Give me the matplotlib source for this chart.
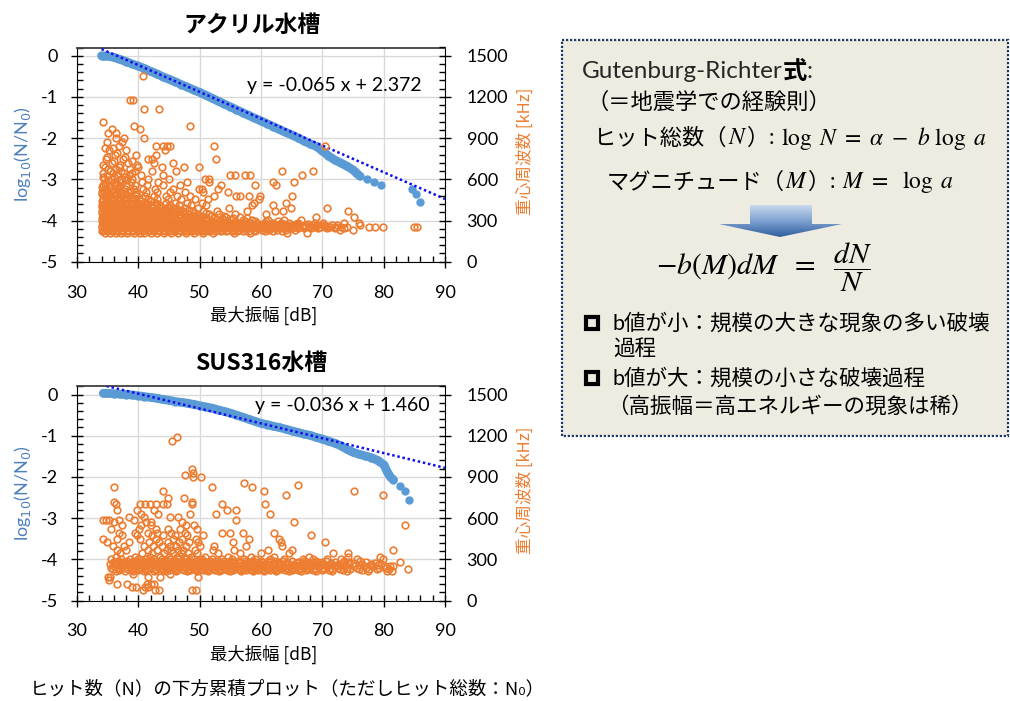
import numpy as np
import matplotlib
matplotlib.use("Agg")
import matplotlib.pyplot as plt
from matplotlib.patches import Rectangle, Polygon
from matplotlib.colors import LinearSegmentedColormap
from matplotlib.ticker import MultipleLocator

plt.rcParams["font.family"] = ["Lato", "Noto Sans CJK JP", "DejaVu Sans"]
plt.rcParams["axes.unicode_minus"] = False

BLUE = "#5B9BD5"
ORANGE = "#ED7D31"
CJK = ["Noto Sans CJK JP", "DejaVu Sans"]

# --- acrylic tank: cumulative hit curve log10(N/N0) vs max amplitude [dB]
acr_curve_x = [34.0, 34.3, 34.6, 35, 36, 37, 38, 39, 40, 41, 42, 43, 44, 45, 46, 47, 48, 49, 50,
               51, 52, 53, 54, 55, 56, 57, 58, 59, 60, 61, 62, 63, 64, 65, 66, 67, 68, 69, 70,
               71, 72, 73, 74, 75, 75.5, 76.1]
acr_curve_y = [0.0, 0.0, 0.0, -0.01, -0.04, -0.09, -0.14, -0.2, -0.25, -0.31, -0.38, -0.44, -0.51,
               -0.57, -0.63, -0.7, -0.76, -0.83, -0.89, -0.96, -1.03, -1.1, -1.17, -1.24, -1.31,
               -1.38, -1.45, -1.52, -1.58, -1.65, -1.72, -1.79, -1.86, -1.92, -1.99, -2.07, -2.14,
               -2.2, -2.31, -2.43, -2.53, -2.6, -2.68, -2.77, -2.84, -2.92]
acr_tail_x = [77.3, 78.5, 79.5, 84.7, 85.2, 86.0]
acr_tail_y = [-3.0, -3.07, -3.15, -3.24, -3.36, -3.55]
acr_slope, acr_icpt = -0.065, 2.372
acr_fit_x0 = 34.0

# centroid frequency [kHz]: one list of amplitudes per frequency row
acr_rows_khz = [210, 232, 250, 265, 285, 305, 325, 345, 370, 390, 410, 430, 455, 480, 505, 530,
                555, 580, 605, 630, 660, 690, 720, 750, 780, 810, 840, 870, 900, 940, 970, 990,
                1015, 1112, 1175, 1350]
acr_rows_x = [
    [34.6, 35.4, 36.3, 37.2, 38.1, 39.3, 40.2, 41.0, 42.1, 43.0, 44.2, 45.3, 46.4, 47.8, 49.0,
     50.5, 52.1, 55.6, 58.2, 64.2, 67.5],
    [34.3, 35.0, 35.8, 36.6, 37.5, 38.3, 39.0, 39.8, 40.7, 41.5, 42.4, 43.3, 44.0, 44.9, 45.8,
     46.7, 47.5, 48.4, 49.3, 50.2, 51.0, 51.9, 52.8, 53.7, 54.5, 55.6, 56.4, 57.5, 58.8, 60.1,
     61.3, 62.6, 64.0, 65.5, 72.8, 75.0],
    [34.1, 34.8, 35.6, 36.4, 37.1, 37.9, 38.7, 39.5, 40.3, 41.1, 41.9, 42.7, 43.6, 44.4, 45.2,
     46.0, 46.9, 47.7, 48.6, 49.5, 50.3, 51.2, 52.0, 52.9, 53.8, 54.6, 55.4, 56.2, 57.0, 57.8,
     58.6, 59.4, 60.2, 61.0, 61.9, 62.8, 63.6, 64.5, 65.4, 66.2, 67.0, 67.9, 68.8, 69.6, 70.5,
     71.3, 72.2, 73.1, 74.0, 77.6, 78.6, 79.9, 84.9, 85.4],
    [34.4, 35.2, 36.0, 36.8, 37.6, 38.4, 39.2, 40.0, 40.8, 41.6, 42.4, 43.2, 44.0, 44.8, 45.6,
     46.5, 47.3, 48.1, 49.0, 49.8, 50.7, 51.5, 52.4, 53.3, 54.1, 55.0, 55.9, 56.8, 57.7, 58.5,
     59.6, 60.6, 61.5, 62.4, 63.3, 64.2, 65.1, 66.0, 67.2, 68.3, 69.2, 70.1, 71.6, 72.4, 76.2],
    [34.2, 35.0, 35.7, 36.5, 37.3, 38.0, 38.9, 39.7, 40.5, 41.3, 42.2, 43.0, 43.9, 44.7, 45.5,
     46.3, 47.2, 48.0, 48.9, 49.7, 50.6, 51.6, 52.5, 53.5, 54.6, 55.7, 56.8, 58.0, 59.3, 60.7,
     62.0, 63.2, 64.6, 66.0, 68.8, 70.1, 73.6, 76.0],
    [34.5, 35.3, 36.1, 36.9, 37.7, 38.5, 39.3, 40.1, 40.9, 41.8, 42.6, 43.5, 44.4, 45.3, 46.2,
     47.1, 48.1, 49.1, 50.2, 51.3, 52.6, 54.0, 55.3, 57.0, 58.6, 61.2, 63.8, 66.5],
    [34.2, 35.0, 35.8, 36.6, 37.4, 38.2, 39.0, 39.8, 40.6, 41.4, 42.3, 43.1, 44.0, 44.9, 45.9,
     46.9, 48.0, 49.3, 50.8, 52.4, 54.3, 56.6, 68.9, 75.2],
    [34.4, 35.2, 36.0, 36.8, 37.6, 38.4, 39.2, 40.0, 40.8, 41.7, 42.6, 43.5, 44.5, 45.6, 46.8,
     48.2, 49.6, 51.5, 53.2, 55.8, 60.8],
    [34.1, 34.9, 35.7, 36.5, 37.3, 38.1, 38.9, 39.7, 40.5, 41.4, 42.4, 43.4, 44.6, 45.8, 47.3,
     48.9, 50.6, 52.9, 57.7, 62.3, 63.6, 74.2],
    [34.3, 35.1, 35.9, 36.7, 37.6, 38.5, 39.4, 40.3, 41.3, 42.3, 43.5, 44.8, 46.2, 47.6, 49.8,
     54.8, 64.9, 70.8],
    [34.0, 34.8, 35.6, 36.4, 37.3, 38.2, 39.1, 40.1, 41.1, 42.2, 43.6, 45.2, 46.6, 48.6, 51.0,
     58.5, 61.9],
    [34.5, 35.3, 36.2, 37.1, 38.0, 39.0, 40.0, 41.2, 42.8, 44.5, 46.0, 47.9, 50.4, 58.8, 64.1],
    [34.2, 35.1, 36.0, 36.9, 37.9, 38.9, 40.1, 41.5, 43.1, 44.9, 47.0, 49.2, 51.3, 59.6],
    [34.4, 35.4, 36.3, 37.4, 38.5, 39.7, 41.1, 42.6, 44.5, 46.3, 48.5, 52.3, 55.9, 56.5, 58.0,
     59.9, 65.0],
    [34.1, 35.0, 36.0, 37.1, 38.3, 39.6, 41.2, 43.0, 45.1, 47.6, 50.6, 54.6],
    [34.6, 35.6, 36.7, 37.9, 39.3, 40.8, 42.7, 45.6, 49.9, 50.3, 53.0],
    [34.3, 35.4, 36.6, 38.0, 39.5, 41.4, 44.0, 46.8, 53.4, 59.1, 62.4],
    [34.8, 36.0, 37.3, 38.8, 40.6, 43.2, 47.9, 51.6, 62.0, 65.3],
    [34.4, 35.7, 37.2, 39.0, 41.6, 45.0, 50.8, 51.6],
    [34.9, 36.5, 38.4, 40.4, 44.0, 54.9, 55.7, 57.4, 58.2, 66.7],
    [35.3, 37.1, 39.4, 42.3, 46.2, 63.5, 68.4],
    [34.6, 36.9, 40.0, 43.8, 47.4, 49.9],
    [35.7, 38.3, 42.6, 45.6],
    [34.7, 37.5, 41.5, 42.2, 52.7],
    [36.2, 39.6, 42.8],
    [35.2, 38.0, 44.3],
    [36.9, 42.8, 44.1, 44.6, 45.2, 52.4, 70.4],
    [34.9, 37.3],
    [36.4, 37.6, 40.9],
    [35.0, 36.3],
    [35.7, 40.3],
    [39.3, 48.4],
    [34.2],
    [40.9, 43.4],
    [38.6, 39.2],
    [40.7],
]
# the dense low-amplitude core, rows in between the ones above
acr_core_khz = [220, 242, 258, 275, 295, 315, 335, 358, 380, 400, 420, 442, 467, 492, 518, 543,
                568, 595, 615, 645, 675, 705, 735, 765, 795, 825]
acr_core_x = [
    [34.0, 34.9, 35.7, 36.5, 37.4, 38.2, 39.1, 39.9, 40.8, 41.7, 42.5, 43.4, 44.3, 45.1, 46.0,
     46.9, 47.8, 48.7, 49.7, 50.6, 51.5, 52.5, 53.4, 54.3, 55.2, 56.1, 57.1, 58.0, 59.0, 60.6,
     62.0, 63.4],
    [34.5, 35.4, 36.2, 37.0, 37.8, 38.7, 39.5, 40.3, 41.1, 42.0, 42.8, 43.7, 44.5, 45.4, 46.2,
     47.1, 48.0, 48.9, 49.8, 50.7, 51.6, 52.4, 53.3, 54.2, 55.1, 56.0, 56.9, 57.8, 58.7, 59.6,
     60.5, 61.4, 62.3, 63.2, 64.1, 65.0, 66.0, 67.0, 68.1, 69.3, 70.8, 72.0, 73.5],
    [34.0, 34.9, 35.7, 36.5, 37.3, 38.1, 39.0, 39.8, 40.6, 41.4, 42.3, 43.1, 43.9, 44.8, 45.6,
     46.4, 47.3, 48.2, 49.1, 50.0, 50.9, 51.8, 52.7, 53.6, 54.5, 55.4, 56.3, 57.3, 58.2, 59.1,
     60.0, 60.9, 61.8, 62.7, 63.6, 64.6, 65.7, 66.8, 67.9, 69.0, 70.2, 71.0],
    [34.6, 35.4, 36.2, 37.0, 37.8, 38.6, 39.4, 40.2, 41.0, 41.9, 42.7, 43.5, 44.3, 45.2, 46.0,
     46.8, 47.7, 48.5, 49.4, 50.3, 51.2, 52.1, 53.0, 54.0, 55.0, 56.2, 57.4, 58.9, 60.3, 61.8,
     63.7, 65.7, 67.6],
    [34.0, 34.8, 35.6, 36.4, 37.2, 38.0, 38.8, 39.6, 40.4, 41.2, 42.0, 42.9, 43.7, 44.6, 45.4,
     46.3, 47.2, 48.1, 49.0, 50.0, 51.0, 52.0, 53.2, 54.4, 55.8, 57.4, 59.0, 60.8, 62.7],
    [34.1, 34.9, 35.7, 36.5, 37.3, 38.1, 38.9, 39.7, 40.5, 41.3, 42.2, 43.0, 43.9, 44.8, 45.7,
     46.7, 47.7, 48.7, 49.8, 51.0, 52.3, 53.7, 55.5, 57.7],
    [34.6, 35.4, 36.2, 37.0, 37.8, 38.6, 39.4, 40.2, 41.0, 41.9, 42.8, 43.7, 44.6, 45.6, 46.6,
     47.7, 48.9, 50.2, 51.9, 53.9],
    [34.0, 34.8, 35.6, 36.4, 37.2, 38.0, 38.8, 39.6, 40.4, 41.2, 42.1, 43.0, 44.0, 45.1, 46.2,
     47.5, 49.0, 51.0],
    [34.5, 35.3, 36.1, 36.9, 37.7, 38.5, 39.3, 40.1, 41.0, 41.9, 42.9, 44.0, 45.3, 46.8, 48.3],
    [34.0, 34.9, 35.8, 36.6, 37.5, 38.4, 39.3, 40.2, 41.2, 42.3, 43.5, 44.9],
    [34.4, 35.3, 36.2, 37.1, 38.1, 39.1, 40.2, 41.5, 43.0],
    [34.0, 34.9, 35.8, 36.8, 37.8, 39.0, 40.4, 42.0],
    [34.7, 35.7, 36.7, 37.8, 39.1, 40.6],
    [34.0, 35.2, 36.5, 38.0, 39.7],
    [34.4, 35.5, 36.9, 38.6],
    [34.0, 35.3, 37.0],
    [34.6, 36.2],
    [35.0, 36.9, 38.1],
    [34.2, 36.0, 37.8],
    [34.3, 35.9, 37.6, 39.0],
    [35.1, 36.4, 38.7],
    [34.3, 37.0, 39.8],
    [36.1, 38.9],
    [34.9, 37.8],
    [36.6],
    [34.5, 35.9],
]

# --- SUS316 tank
sus_curve_x = [34.3, 34.6, 35, 36, 37, 38, 39, 40, 41, 42, 43, 44, 45, 46, 47, 48, 49, 50, 51, 52,
               53, 54, 55, 56, 57, 58, 59, 60, 61, 62, 63, 64, 65, 66, 67, 68, 69, 70, 71, 72, 73,
               74, 75, 76, 77, 78, 79, 80, 80.6, 81.1, 81.6]
sus_curve_y = [0.03, 0.03, 0.03, 0.02, 0.01, 0.0, -0.01, -0.03, -0.05, -0.07, -0.09, -0.12, -0.14,
               -0.17, -0.19, -0.21, -0.24, -0.27, -0.3, -0.33, -0.37, -0.41, -0.45, -0.5, -0.55,
               -0.6, -0.65, -0.7, -0.73, -0.77, -0.8, -0.84, -0.88, -0.92, -0.96, -0.99, -1.04,
               -1.08, -1.13, -1.18, -1.24, -1.33, -1.4, -1.45, -1.49, -1.53, -1.6, -1.7, -1.88,
               -2.0, -2.07]
sus_tail_x = [82.7, 83.5, 84.1]
sus_tail_y = [-2.23, -2.35, -2.55]
sus_slope, sus_icpt = -0.036, 1.460
sus_fit_x0 = 34.8

sus_rows_khz = [80, 97, 121, 150, 170, 195, 215, 232, 248, 264, 280, 300, 320, 345, 370, 395,
                425, 450, 475, 490, 520, 550, 570, 585, 610, 630, 660, 700, 720, 750, 770, 795,
                825, 840, 857, 900, 915, 930, 960, 1160, 1190]
sus_rows_x = [
    [40.8, 42.7, 43.3, 48.75, 49.4],
    [38.9, 39.7, 41.1, 41.6],
    [36.5, 38.1, 41.4, 42.0, 42.5],
    [35.2],
    [35.1, 35.4, 41.6, 43.5, 49.8],
    [39.2, 45.2],
    [36.4, 37.8, 39.2, 41.0, 42.6, 44.5, 46.1, 47.9, 49.6, 51.4, 53.1, 55.0, 56.8, 58.7, 60.5,
     62.4, 64.5, 66.6, 69.0, 71.5, 74.0, 77.5, 80.6, 81.4],
    [35.8, 37.0, 38.3, 39.4, 40.5, 41.6, 42.7, 43.8, 44.9, 46.0, 47.1, 48.2, 49.2, 50.2, 51.2,
     52.2, 53.2, 54.2, 55.2, 56.2, 57.2, 58.2, 59.2, 60.2, 61.2, 62.2, 63.3, 64.4, 65.5, 66.6,
     67.8, 69.0, 70.3, 71.6, 72.9, 74.5, 76.0, 77.6, 78.9, 80.9, 83.9],
    [36.1, 37.3, 38.6, 39.8, 41.0, 42.1, 43.2, 44.3, 45.4, 46.5, 47.6, 48.7, 49.7, 50.7, 51.7,
     52.7, 53.7, 54.7, 55.7, 56.7, 57.7, 58.7, 59.7, 60.7, 61.7, 62.7, 63.8, 64.9, 66.0, 67.1,
     68.2, 69.5, 70.8, 72.2, 73.5, 75.2, 76.8, 78.3, 80.2, 81.0, 81.6],
    [35.4, 36.6, 37.9, 39.1, 40.3, 41.4, 42.5, 43.6, 44.7, 45.8, 46.9, 48.0, 49.0, 50.0, 51.0,
     52.0, 53.0, 54.0, 55.0, 56.0, 57.0, 58.0, 59.0, 60.0, 61.0, 62.1, 63.2, 64.3, 65.4, 66.5,
     67.6, 68.8, 70.0, 71.3, 72.7, 74.3, 76.4, 78.0, 79.6],
    [36.0, 37.5, 38.9, 40.1, 41.2, 42.3, 43.4, 44.5, 45.6, 46.7, 47.8, 48.9, 50.0, 51.1, 52.2,
     53.3, 54.4, 55.5, 56.6, 57.8, 59.0, 60.2, 61.5, 62.9, 64.3, 66.0, 67.5, 68.6, 69.9, 72.1,
     74.4, 77.1, 82.6],
    [35.6, 37.2, 38.7, 40.0, 41.3, 42.6, 43.9, 45.2, 46.5, 47.7, 49.0, 50.4, 52.0, 53.6, 55.3,
     57.2, 59.1, 61.4, 63.7, 66.8, 68.4, 70.7, 73.0, 75.6, 79.9],
    [36.3, 39.5, 41.9, 43.6, 45.0, 46.3, 47.4, 48.6, 50.9, 54.6, 58.3, 62.2, 67.9, 74.2, 79.4],
    [37.0, 40.6, 42.3, 44.2, 45.7, 46.9, 48.1, 49.5, 53.0, 56.5, 60.0, 64.6, 71.8, 74.2],
    [36.6, 38.0, 41.5, 43.1, 44.6, 45.4, 46.4, 47.3, 49.2, 52.1, 55.6, 61.1, 65.0, 81.5],
    [35.9, 37.6, 40.9, 42.4, 43.8, 45.1, 46.2, 47.8, 50.0, 52.3, 57.6, 63.5],
    [34.9, 38.4, 41.7, 43.4, 44.8, 46.6, 48.3, 49.8, 55.4, 63.3, 70.5],
    [34.3, 36.5, 40.3, 42.8, 45.6, 47.1, 49.4, 58.0, 62.9],
    [37.3, 39.8, 42.2, 44.0, 46.0, 48.0, 50.6, 68.2],
    [36.8, 39.5, 41.6, 43.1, 45.3, 47.6, 53.6, 55.0, 57.1, 62.1],
    [35.6, 40.1, 42.9, 44.9, 46.8, 49.6],
    [37.4, 40.5, 42.0, 47.7, 49.0, 83.4],
    [36.0, 41.2, 42.0, 47.1, 65.3],
    [34.3, 34.8, 35.2, 36.9, 39.3, 55.9],
    [38.5, 40.9, 45.1, 46.5],
    [40.5, 43.2, 48.5, 52.6, 61.5],
    [36.5, 39.8, 42.5, 54.5, 56.0],
    [36.4, 40.3, 41.1, 41.9, 42.8, 44.0, 44.6, 48.75, 53.6, 60.6],
    [36.0, 48.75],
    [44.9, 47.4],
    [64.0, 79.9],
    [44.1, 60.5, 75.1],
    [36.1, 52.0, 58.5],
    [66.1],
    [57.3],
    [48.9, 50.2],
    [47.6],
    [48.9],
    [48.75],
    [45.5],
    [46.3],
]
# the dense band around 250 kHz, rows in between the ones above
sus_core_khz = [224, 240, 256, 272, 290]
sus_core_x = [
    [36.9, 38.8, 40.0, 41.3, 42.9, 44.0, 45.1, 46.3, 47.4, 48.5, 49.4, 50.5, 51.5, 52.5, 53.5,
     54.5, 55.5, 56.5, 57.5, 58.5, 59.5, 60.5, 61.5, 62.6, 63.9, 65.0, 66.1, 67.3, 68.5, 70.0,
     71.1, 73.4, 76.5],
    [35.5, 36.7, 37.6, 38.8, 40.0, 41.1, 42.3, 43.4, 44.5, 45.6, 46.7, 47.8, 48.9, 49.9, 50.9,
     51.9, 52.9, 53.9, 54.9, 55.9, 56.9, 57.9, 58.9, 59.9, 60.9, 61.9, 62.9, 64.0, 65.1, 66.2,
     67.4, 68.6, 69.9, 71.2, 72.5, 74.0, 75.6, 77.2, 79.3, 80.4],
    [36.4, 37.6, 38.9, 40.0, 41.2, 42.4, 43.5, 44.6, 45.7, 46.8, 47.9, 48.9, 49.9, 50.9, 51.9,
     52.9, 53.9, 54.9, 55.9, 56.9, 57.9, 58.9, 59.9, 60.9, 61.9, 63.0, 64.1, 65.2, 66.3, 67.5,
     68.7, 69.9, 71.0, 72.4, 73.9, 75.9, 77.8, 79.1],
    [35.8, 37.1, 38.4, 39.6, 40.8, 41.9, 43.0, 44.1, 45.2, 46.3, 47.4, 48.5, 49.5, 50.5, 51.5,
     52.5, 53.5, 54.5, 55.5, 56.5, 57.5, 58.6, 59.7, 60.8, 61.9, 63.0, 64.0, 65.8, 66.9, 68.1,
     69.3, 71.4, 73.3, 75.2, 78.6],
    [36.7, 38.2, 39.6, 40.7, 41.8, 42.9, 44.0, 45.0, 46.1, 47.2, 48.3, 49.5, 50.6, 51.7, 52.8,
     53.9, 55.1, 56.2, 57.4, 58.6, 60.0, 61.1, 62.2, 63.6, 65.1, 67.0, 69.0, 70.6, 73.6, 76.2],
]


def expand_rows(rows_khz, rows_x):
    xs, fs = [], []
    for f, row in zip(rows_khz, rows_x):
        xs.extend(row)
        fs.extend([f] * len(row))
    return xs, fs


def draw_panel(ax, curve_x, curve_y, tail_x, tail_y, slope, icpt, fit_x0,
               rows_khz, rows_x, eq_pos, title, title_x):
    ax.set_xlim(30, 90)
    ax.set_ylim(-5, 0.2)
    ax.xaxis.set_major_locator(MultipleLocator(10))
    ax.xaxis.set_minor_locator(MultipleLocator(2))
    ax.yaxis.set_major_locator(MultipleLocator(1))
    ax.yaxis.set_minor_locator(MultipleLocator(0.2))
    ax.grid(True, which="major", color="#D9D9D9", lw=1.0)
    ax.set_axisbelow(True)

    ax.plot(curve_x, curve_y, "-", color=BLUE, lw=6.3, solid_capstyle="round", zorder=2)
    ax.plot(curve_x, curve_y, "o", color=BLUE, ms=5, zorder=2)
    ax.plot(tail_x, tail_y, "o", color=BLUE, ms=5, zorder=2)
    fx = np.array([fit_x0, 90.0])
    ax.plot(fx, slope * fx + icpt, color="#1010F0", lw=1.8, ls=(0, (1, 1.1)), zorder=3)
    sign = "+" if icpt >= 0 else "-"
    ax.text(eq_pos[0], eq_pos[1], f"y = {slope:.3f} x {sign} {abs(icpt):.3f}",
            fontsize=14, va="center", ha="left", zorder=4)

    ax.tick_params(axis="both", which="major", direction="inout", length=9, width=1,
                   labelsize=13, top=False, right=False)
    ax.tick_params(axis="both", which="minor", direction="in", length=4.3, width=1,
                   top=False, right=False)
    ax.tick_params(axis="y", which="major", pad=9)
    ax.tick_params(axis="x", which="major", pad=12)
    for s in ("left", "bottom", "right"):
        ax.spines[s].set_color("black")
    ax.spines["top"].set_color("#404040")
    ax.spines["top"].set_linewidth(1.3)

    ax.set_xlabel("最大振幅 [dB]", fontsize=12.5, family=CJK)
    ax.xaxis.set_label_coords(0.508, -0.252)
    ax.xaxis.label.set_va("center")
    ax.set_ylabel(r"log$_{10}$(N/N$_0$)", fontsize=13, color="#4F81BD",
                  math_fontfamily="dejavusans")
    ax.yaxis.set_label_coords(-0.149, 0.5)
    ax.yaxis.label.set_va("center")

    ax2 = ax.twinx()
    ox, of = [], []
    for kh, xr in zip(rows_khz, rows_x):
        a, b = expand_rows(kh, xr)
        ox += a
        of += b
    ax2.plot(ox, of, "o", ls="none", mfc="none", mec=ORANGE, ms=4.8, mew=1.2, zorder=3)
    ax2.set_ylim(0, 1560)
    ax2.yaxis.set_major_locator(MultipleLocator(300))
    ax2.yaxis.set_minor_locator(MultipleLocator(60))
    ax2.tick_params(axis="y", which="major", direction="inout", length=9, width=1,
                    labelsize=13, pad=11)
    ax2.tick_params(axis="y", which="minor", direction="in", length=4.3, width=1)
    ax2.set_ylabel("重心周波数 [kHz]", fontsize=12, color=ORANGE, family=CJK, rotation=90)
    ax2.yaxis.set_label_coords(1.217, 0.515)
    ax2.yaxis.label.set_va("center")
    for s in ax2.spines.values():
        s.set_visible(False)

    ax.text(title_x, 1.105, title, transform=ax.transAxes, ha="center", va="center",
            fontsize=16.5, fontweight="bold", family=CJK)


fig = plt.figure(figsize=(10.1, 7.01), dpi=100)
renderer = fig.canvas.get_renderer()

# overlay in pixel coordinates for the explanation box and captions
ov = fig.add_axes([0, 0, 1, 1])
ov.axis("off")
ov.set_xlim(0, 1010)
ov.set_ylim(701, 0)


def put(x, y, s, size, **kw):
    kw.setdefault("family", CJK)
    return ov.text(x, y, s, fontsize=size, ha="left", va="center", **kw)


def chain(x, y, pieces):
    # lay text pieces one after another on a line
    for s, size, kw in pieces:
        t = put(x, y, s, size, **kw)
        x += t.get_window_extent(renderer).width


ov.add_patch(Rectangle((562, 40), 446, 396, fc="#EEECE1", ec="#1F3864", lw=1.6,
                       ls=(0, (1, 0.8)), zorder=1))

LAT = ["Lato", "DejaVu Sans"]
STIX = dict(math_fontfamily="stix")
chain(582, 72, [("Gutenburg-Richter", 17.5, dict(family=LAT, color="#262626")),
                ("式", 17.5, dict(fontweight="bold")),
                (":", 17.5, dict(family=LAT, color="#262626"))])
put(586, 102, "（＝地震学での経験則）", 16)

chain(594, 138, [("ヒット総数（", 16, {}), ("$N$", 17, STIX), ("）", 16, {}),
                 (": ", 16, dict(family=LAT)),
                 (r"$\log\ N\ =\ \alpha\ -\ b\ \log\ a$", 17, STIX)])
chain(607, 182, [("マグニチュード（", 16, {}), ("$M$", 17, STIX), ("）", 16, {}),
                 (": ", 16, dict(family=LAT)),
                 (r"$M\ =\ \ \log\ a$", 17, STIX)])

arrow = Polygon([(750, 205), (812, 205), (812, 224), (842, 224), (780, 237), (719, 224),
                 (750, 224)], closed=True, fc="none", ec="none")
ov.add_patch(arrow)
grad = np.linspace(0, 1, 64).reshape(-1, 1)
cmap = LinearSegmentedColormap.from_list("arrow", ["#C8D8EE", "#7EA1D0", "#2F5E9E"])
img = ov.imshow(grad, extent=[719, 842, 237, 205], cmap=cmap, aspect="auto", origin="upper",
                zorder=3)
img.set_clip_path(arrow)

put(656, 267, r"$-b(M)dM\ \ =\ \ \dfrac{dN}{N}$", 21.5, **STIX)

for yb in (323, 378):
    ov.add_patch(Rectangle((585.5, yb - 6), 12, 12, fc="none", ec="black", lw=3.0, zorder=3))
put(613, 323, "b値が小：規模の大きな現象の多い破壊", 15.5, family=["Lato", "Noto Sans CJK JP"])
put(613, 350, "過程", 15.5)
put(613, 378, "b値が大：規模の小さな破壊過程", 15.5, family=["Lato", "Noto Sans CJK JP"])
put(607, 407, "（高振幅＝高エネルギーの現象は稀）", 15.5)

put(30, 689, "ヒット数（N）の下方累積プロット（ただしヒット総数：N₀）", 13.3)

ov.set_xlim(0, 1010)
ov.set_ylim(701, 0)

ax_top = fig.add_axes([77 / 1010, 1 - 261.7 / 701, 368 / 1010, 214.2 / 701])
draw_panel(ax_top, acr_curve_x, acr_curve_y, acr_tail_x, acr_tail_y, acr_slope, acr_icpt,
           acr_fit_x0, [acr_rows_khz, acr_core_khz], [acr_rows_x, acr_core_x],
           (57.7, -0.72), "アクリル水槽", 0.476)

ax_bot = fig.add_axes([77 / 1010, 1 - 600.5 / 701, 368 / 1010, 214.2 / 701])
draw_panel(ax_bot, sus_curve_x, sus_curve_y, sus_tail_x, sus_tail_y, sus_slope, sus_icpt,
           sus_fit_x0, [sus_rows_khz, sus_core_khz], [sus_rows_x, sus_core_x],
           (59.0, -0.27), "SUS316水槽", 0.5)

fig.savefig("out.png", dpi=100)
